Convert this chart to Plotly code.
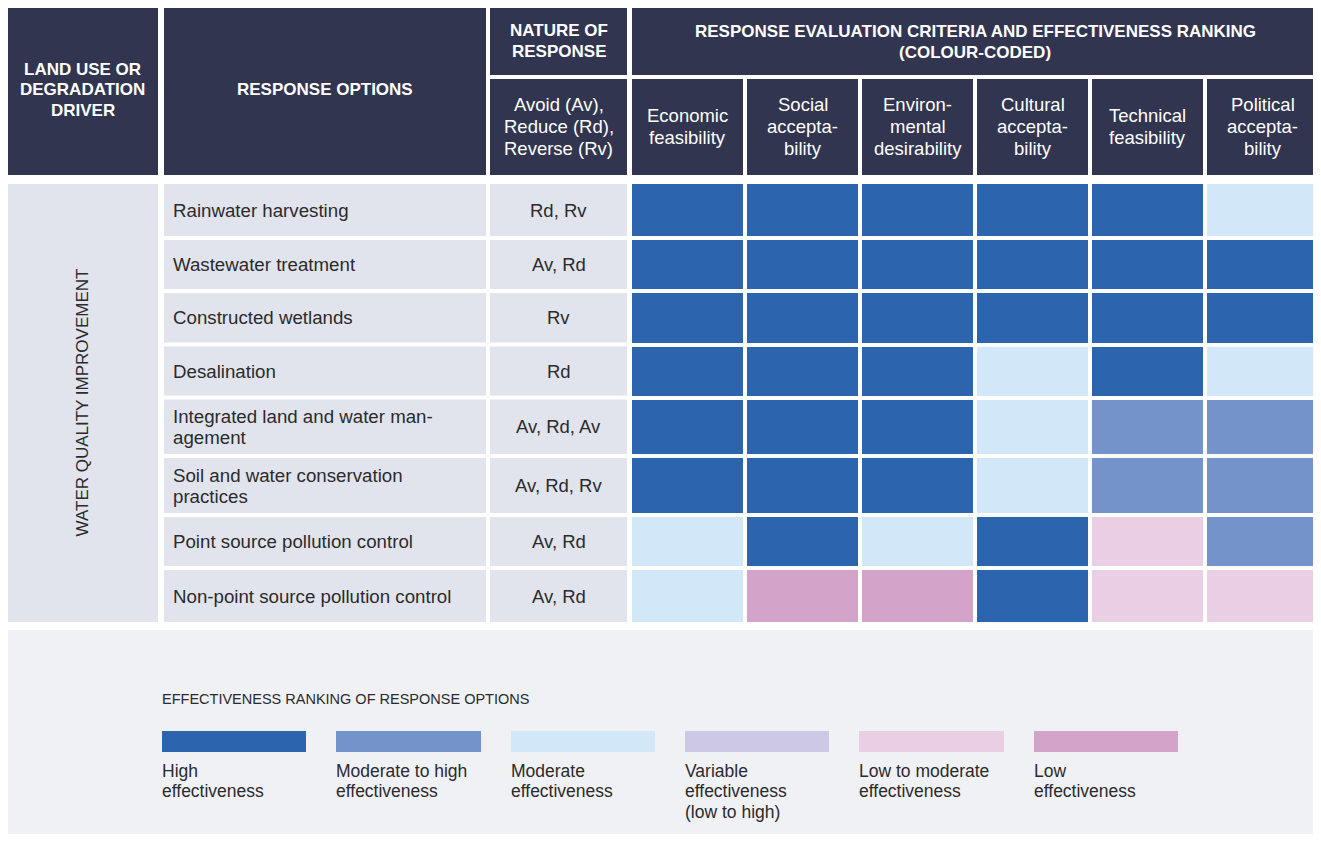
import plotly.graph_objects as go

# ---------------- DATA ----------------
driver = "WATER QUALITY IMPROVEMENT"
criteria = ["Economic<br>feasibility", "Social<br>accepta-<br>bility",
            "Environ-<br>mental<br>desirability", "Cultural<br>accepta-<br>bility",
            "Technical<br>feasibility", "Political<br>accepta-<br>bility"]
options = ["Rainwater harvesting", "Wastewater treatment", "Constructed wetlands",
           "Desalination", "Integrated land and water man-<br>agement",
           "Soil and water conservation<br>practices",
           "Point source pollution control", "Non-point source pollution control"]
nature = ["Rd, Rv", "Av, Rd", "Rv", "Rd", "Av, Rd, Av", "Av, Rd, Rv", "Av, Rd", "Av, Rd"]
level_codes = ["H", "MH", "M", "V", "LM", "L"]
level_labels = ["High<br>effectiveness", "Moderate to high<br>effectiveness",
                "Moderate<br>effectiveness", "Variable<br>effectiveness<br>(low to high)",
                "Low to moderate<br>effectiveness", "Low<br>effectiveness"]
ratings = [
    ["H", "H", "H", "H", "H", "M"],
    ["H", "H", "H", "H", "H", "H"],
    ["H", "H", "H", "H", "H", "H"],
    ["H", "H", "H", "M", "H", "M"],
    ["H", "H", "H", "M", "MH", "MH"],
    ["H", "H", "H", "M", "MH", "MH"],
    ["M", "H", "M", "H", "LM", "MH"],
    ["M", "L", "L", "H", "LM", "LM"],
]

# ---------------- STYLE / LAYOUT ----------------
W, H = 1321, 842
OFF = 8  # page body margin
NAVY = "#32354f"
CELL = "#e1e4ed"
PANEL = "#f0f1f5"
TXT = "#2b2b2b"
level_colors = ["#2d64ae", "#7493cb", "#d2e7f7", "#ccc8e5", "#eacfe4", "#d3a3ca"]
FONT = "Liberation Sans, Arial, sans-serif"

colA = (7, 158)
colB = (164, 486)
colC = (490, 627)
crit_left, crit_step = 630, 115.0
body_top = 182
row_heights = [56, 53, 53.5, 53, 58.5, 59, 53, 56]
row_edges = [body_top]
for h in row_heights:
    row_edges.append(row_edges[-1] + h)
crit_edges = [crit_left + i * crit_step for i in range(len(criteria) + 1)]
crit_edges[-1] = 1320

code_idx = {c: i for i, c in enumerate(level_codes)}
z = [[code_idx[v] for v in row] for row in ratings]
n = len(level_codes)
cscale = []
for i, c in enumerate(level_colors):
    cscale.append([i / n, c])
    cscale.append([(i + 1) / n, c])

fig = go.Figure()
shapes = []
ann = []


def rect(x0, x1, y0, y1, color):
    shapes.append(dict(type="rect", xref="x", yref="y", x0=x0, x1=x1, y0=y0, y1=y1,
                       fillcolor=color, line=dict(width=0), layer="below"))


def text(x, y, s, size, color=TXT, bold=False, xanchor="center", step=21.5,
         angle=0, first_at=None):
    lines = s.split("<br>")
    k = len(lines)
    for i, ln in enumerate(lines):
        if first_at is not None:
            yy = first_at + i * step
        else:
            yy = y + (i - (k - 1) / 2) * step
        t = "<b>" + ln + "</b>" if bold else ln
        ann.append(dict(x=x, y=yy, xref="x", yref="y", text=t, showarrow=False,
                        xanchor=xanchor, yanchor="middle", textangle=angle,
                        font=dict(family=FONT, size=size, color=color)))


# header
rect(colA[0], colA[1], 7, 175, NAVY)
rect(colB[0], colB[1], 7, 175, NAVY)
rect(colC[0], colC[1], 7, 75, NAVY)
rect(colC[0], colC[1], 79, 175, NAVY)
rect(crit_edges[0] + 2, crit_edges[-1] - 2, 7, 75, NAVY)
for i in range(len(criteria)):
    rect(crit_edges[i] + 2, crit_edges[i + 1] - 2, 79, 175, NAVY)
    text((crit_edges[i] + crit_edges[i + 1]) / 2, 126, criteria[i], 18.5, color="white", step=22)

text(sum(colA) / 2, 89.5, "LAND USE OR<br>DEGRADATION<br>DRIVER", 17, "white", bold=True, step=20.5)
text(sum(colB) / 2, 89, "RESPONSE OPTIONS", 17, "white", bold=True)
text(sum(colC) / 2, 41, "NATURE OF<br>RESPONSE", 17, "white", bold=True, step=21)
text(sum(colC) / 2, 126, "Avoid (Av),<br>Reduce (Rd),<br>Reverse (Rv)", 18.5, "white", step=22)
text((crit_edges[0] + crit_edges[-1]) / 2, 41.5,
     "RESPONSE EVALUATION CRITERIA AND EFFECTIVENESS RANKING<br>(COLOUR-CODED)",
     17, "white", bold=True, step=21)

# body label cells
rect(colA[0], colA[1], row_edges[0] + 2, row_edges[-1] - 2, CELL)
text(sum(colA) / 2 - 1, (row_edges[0] + row_edges[-1]) / 2, driver, 17, angle=-90)
for r in range(len(options)):
    y0, y1 = row_edges[r] + 2, row_edges[r + 1] - 2
    rect(colB[0], colB[1], y0, y1, CELL)
    rect(colC[0], colC[1], y0, y1, CELL)
    ym = (y0 + y1) / 2
    text(colB[0] + 7, ym, options[r], 18.7, xanchor="left", step=21)
    text(sum(colC) / 2, ym, nature[r], 18.5)

# ratings heatmap
fig.add_trace(go.Heatmap(z=z, x=crit_edges, y=row_edges, colorscale=cscale,
                         zmin=-0.5, zmax=n - 0.5, showscale=False, xgap=4, ygap=4,
                         hoverinfo="skip"))

# legend panel
rect(7, 1318, 630, 842, PANEL)
text(160, 699, "EFFECTIVENESS RANKING OF RESPONSE OPTIONS", 14.5, xanchor="left")
leg_left, leg_step, leg_gap = 147, 174.3, 30
leg_edges = [leg_left + i * leg_step for i in range(n + 1)]
fig.add_trace(go.Heatmap(z=[list(range(n))], x=leg_edges, y=[731, 752], colorscale=cscale,
                         zmin=-0.5, zmax=n - 0.5, showscale=False, xgap=leg_gap, ygap=0,
                         hoverinfo="skip"))
for i, lab in enumerate(level_labels):
    text(leg_edges[i] + leg_gap / 2 - 2, None, lab, 17.5, xanchor="left", step=20.7, first_at=770.5)

fig.update_layout(
    width=W - OFF, height=H - 2 * OFF, margin=dict(l=0, r=0, t=0, b=0),
    paper_bgcolor="white", plot_bgcolor="white",
    xaxis=dict(range=[OFF, W], visible=False, fixedrange=True),
    yaxis=dict(range=[H - OFF, OFF], visible=False, fixedrange=True),
    shapes=shapes, annotations=ann, showlegend=False,
)
fig.write_html("out.html")
